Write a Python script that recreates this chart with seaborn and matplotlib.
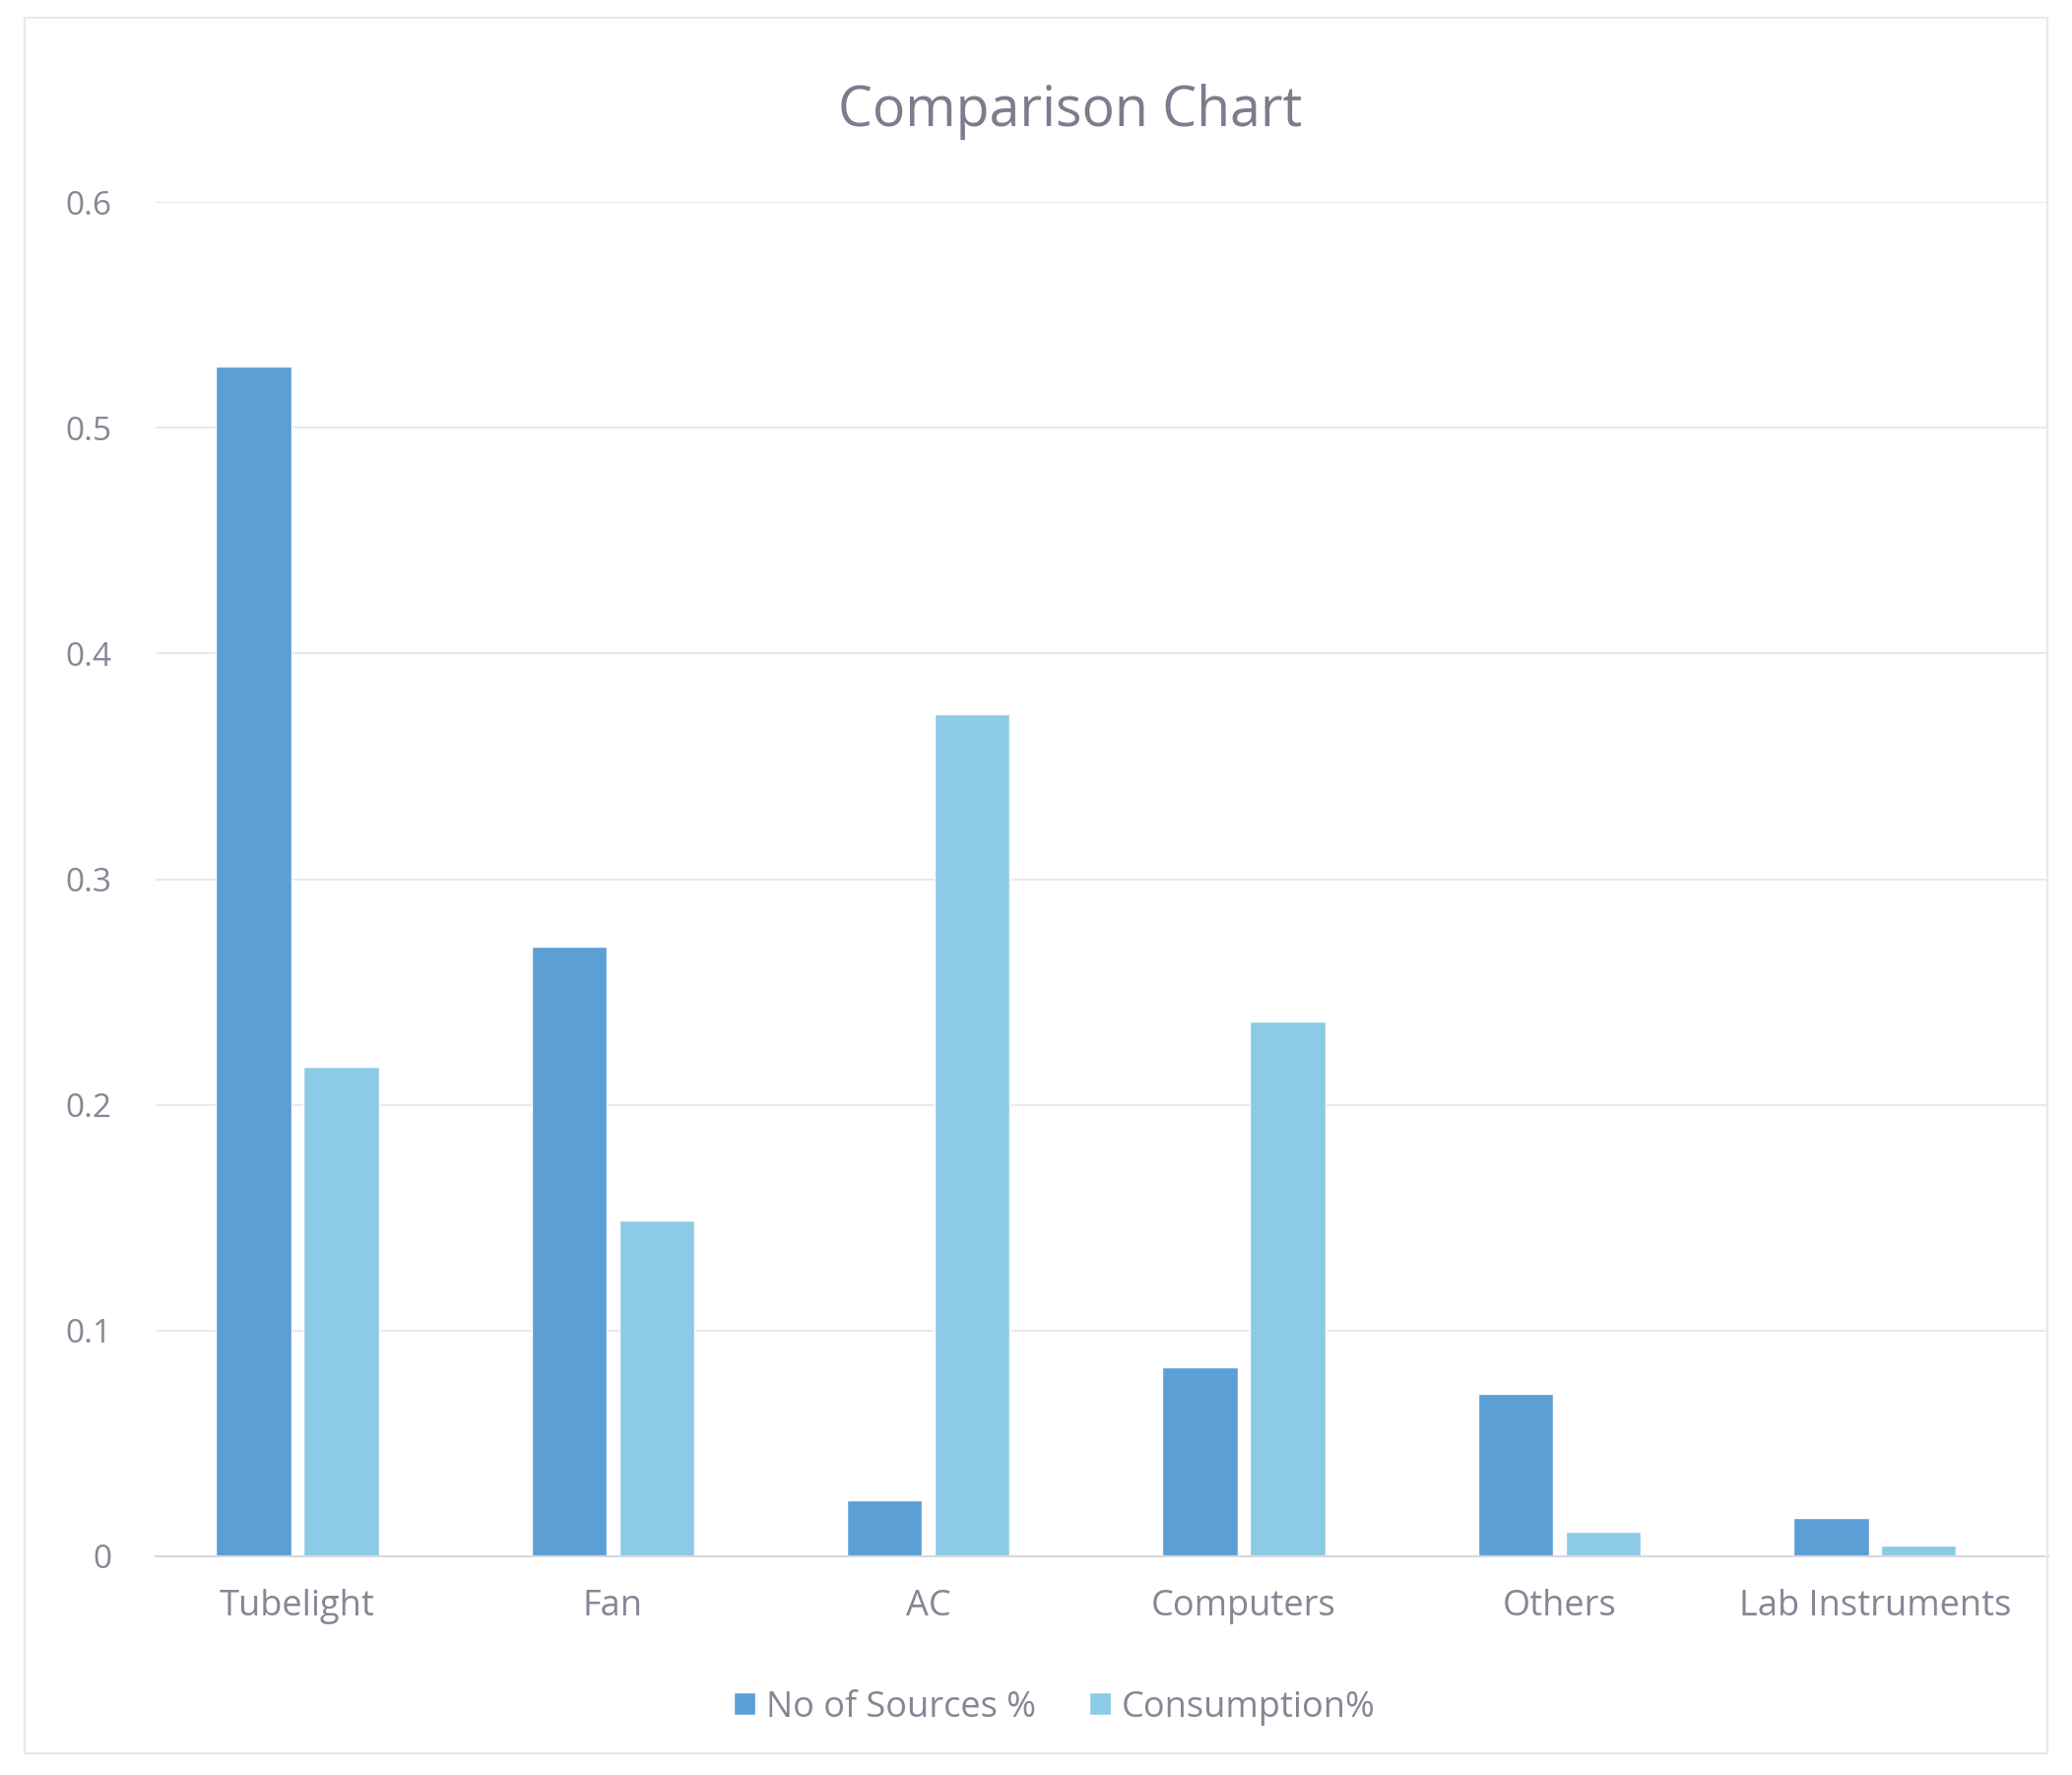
import matplotlib
matplotlib.use("Agg")
import matplotlib.pyplot as plt
import seaborn as sns
import pandas as pd
from matplotlib.patches import Rectangle

categories = ["Tubelight", "Fan", "AC", "Computers", "Others", "Lab Instruments"]
sources_pct = [0.527, 0.270, 0.025, 0.084, 0.072, 0.017]
consumption_pct = [0.217, 0.149, 0.373, 0.237, 0.011, 0.005]
series_names = ["No of Sources %", "Consumption%"]
y_ticks = [0, 0.1, 0.2, 0.3, 0.4, 0.5, 0.6]
y_tick_labels = ["0", "0.1", "0.2", "0.3", "0.4", "0.5", "0.6"]

df = pd.DataFrame({
    "Category": categories * 2,
    "Series": [series_names[0]] * len(categories) + [series_names[1]] * len(categories),
    "Value": sources_pct + consumption_pct,
})

sns.set_theme(style="white")
plt.rcParams["font.family"] = ["Open Sans", "DejaVu Sans"]

text_color = "#8a8494"
fig = plt.figure(figsize=(21.04, 18.02), dpi=100)
ax = fig.add_axes([0.075, 0.1232, 0.9136, 0.763])

sns.barplot(data=df, x="Category", y="Value", hue="Series",
            palette=["#5b9fd5", "#8ccbe6"], width=0.555, gap=0.14,
            saturation=1, ax=ax, legend=True)

ax.set_xlim(-0.45, 5.55)
ax.set_ylim(0, 0.6)
ax.set_yticks(y_ticks)
ax.set_yticklabels(y_tick_labels)
ax.set_xlabel("")
ax.set_ylabel("")
for s in ["top", "right", "left"]:
    ax.spines[s].set_visible(False)
ax.spines["bottom"].set_color("#d9d6dc")
ax.spines["bottom"].set_linewidth(1.5)
ax.yaxis.grid(True, color="#ece7ee", linewidth=1.5)
ax.set_axisbelow(True)
ax.tick_params(axis="y", length=0, pad=32, labelsize=24, labelcolor=text_color)
ax.tick_params(axis="x", length=0, pad=24, labelsize=26, labelcolor=text_color)

fig.text(0.5166, 0.937, "Comparison Chart", fontsize=40, color="#7f7a8d",
         ha="center", va="center")

handles, labels = ax.get_legend_handles_labels()
ax.get_legend().remove()
leg = fig.legend(handles, labels, loc="center", bbox_to_anchor=(0.509, 0.038), ncol=2,
                 frameon=False, fontsize=26, handlelength=0.6, handleheight=0.6,
                 handletextpad=0.3, columnspacing=1.5)
for t in leg.get_texts():
    t.set_color(text_color)

fig.patches.append(Rectangle((0.012, 0.012), 0.976, 0.978, transform=fig.transFigure,
                             fill=False, edgecolor="#ebe6ec", linewidth=1.5))

fig.savefig("out.png", dpi=100)
